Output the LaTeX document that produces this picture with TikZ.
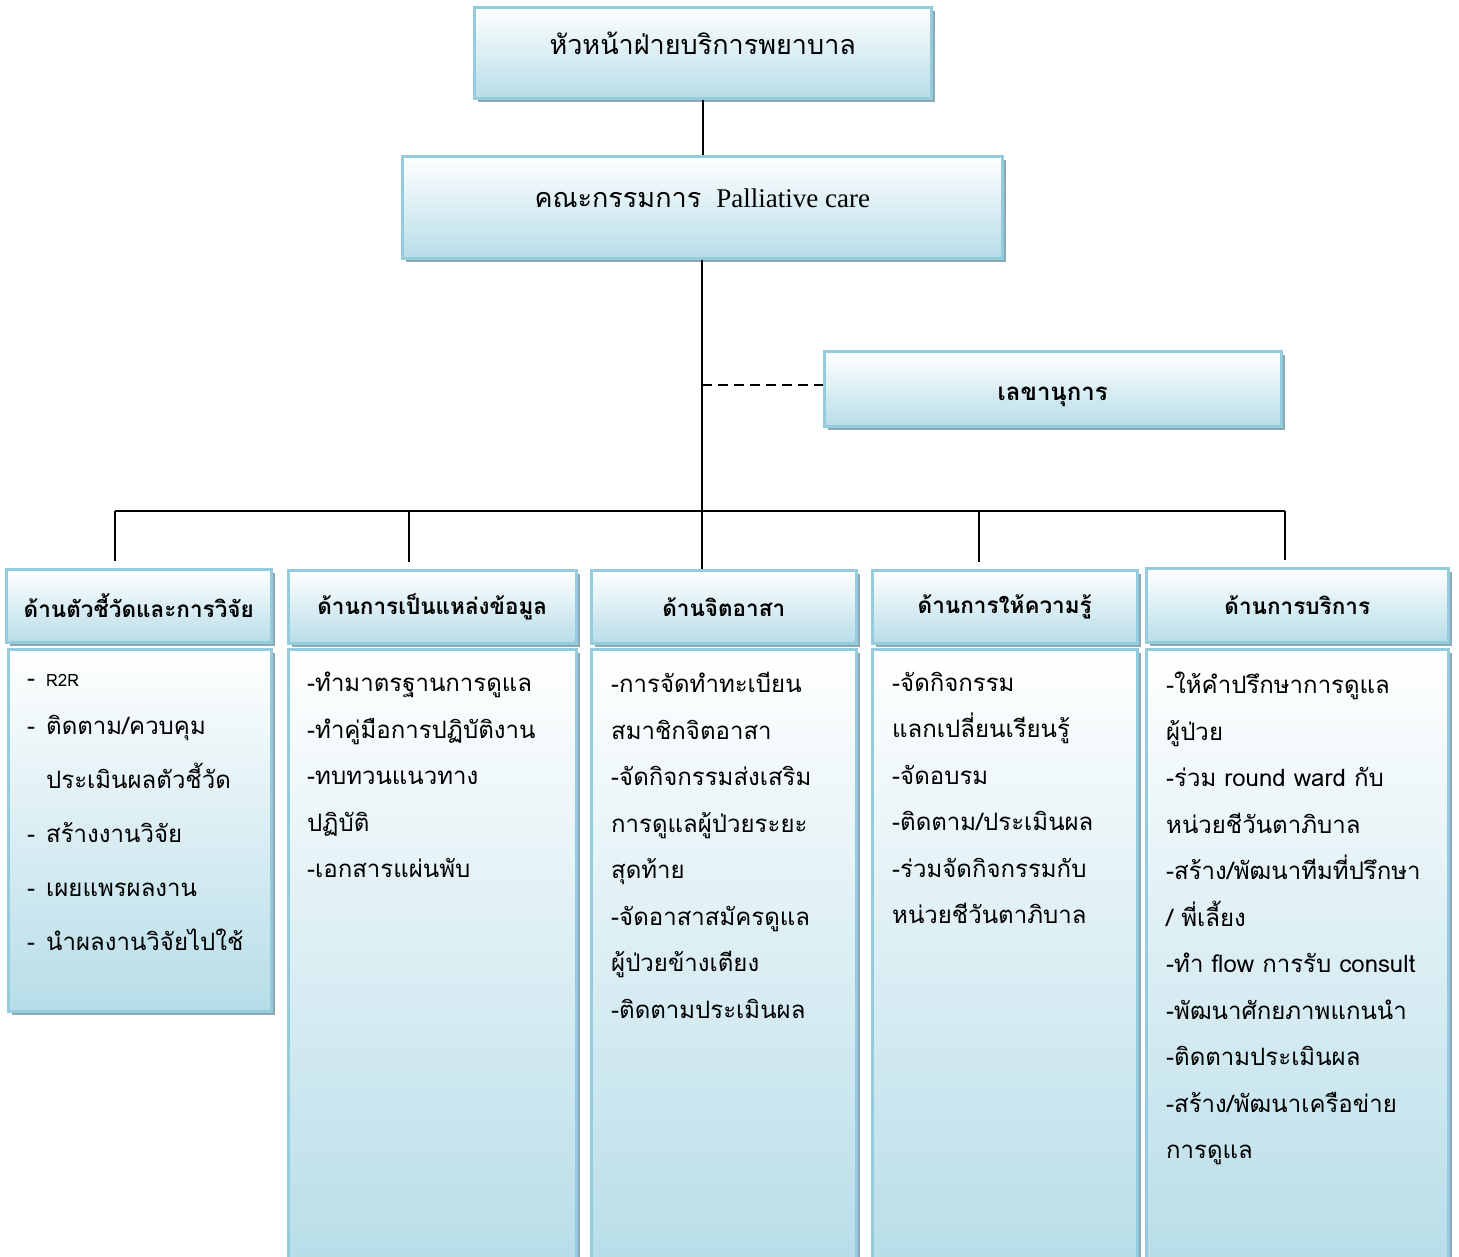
\documentclass[tikz,border=0pt]{standalone}
\usepackage{fontspec}
\newfontfamily\thai[Script=Thai]{Loma}
\newfontfamily\lserif{Liberation Serif}
\usetikzlibrary{shadows}
\definecolor{bordc}{HTML}{93CDDD}
\definecolor{fillc}{HTML}{B7DDE8}
\definecolor{shadc}{HTML}{8EA7B1}
\tikzset{
  box/.style={rectangle, draw=bordc, line width=2.5pt, top color=white, bottom color=fillc,
    general shadow={fill=shadc, shadow xshift=4pt, shadow yshift=-4pt},
    inner sep=0pt, anchor=north west},
  headbox/.style={box, font=\thai\bfseries\fontsize{22.5pt}{26pt}\selectfont},
  conn/.style={line width=1.6pt, black},
  bodytext/.style={anchor=north west, inner sep=0pt, align=left,
    font=\thai\fontsize{24pt}{46.5pt}\selectfont},
}
\begin{document}
\begin{tikzpicture}[x=1pt,y=-1pt]
\useasboundingbox (0,0) rectangle (1459,1256);
\fill[white] (0,0) rectangle (1459,1256);

\node[box, minimum width=457, minimum height=91, text height=15pt, text depth=12pt,
  font=\thai\fontsize{27pt}{32pt}\selectfont] (top) at (473,6) {หัวหน้าฝ่ายบริการพยาบาล};
\node[box, minimum width=600, minimum height=102, text height=20pt, text depth=20pt] (comm) at (401,155)
  {{\thai\fontsize{27pt}{30pt}\selectfont คณะกรรมการ}\hspace{15pt}{\lserif\fontsize{27pt}{30pt}\selectfont Palliative care}};
\node[box, minimum width=457, minimum height=75, text height=23pt, text depth=0pt,
  font=\thai\bfseries\fontsize{24pt}{28pt}\selectfont] (sec) at (823,350) {เลขานุการ};

\node[headbox, minimum width=265, minimum height=73] (h1) at (5,568) {ด้านตัวชี้วัดและการวิจัย};
\node[headbox, minimum width=288, minimum height=73] (h2) at (287,569) {ด้านการเป็นแหล่งข้อมูล};
\node[headbox, minimum width=265, minimum height=73] (h3) at (590,569) {ด้านจิตอาสา};
\node[headbox, minimum width=265, minimum height=73] (h4) at (871,569) {ด้านการให้ความรู้};
\node[headbox, minimum width=302, minimum height=74] (h5) at (1145,567) {ด้านการบริการ};

\node[box, minimum width=263, minimum height=362] (b1) at (7,648) {};
\node[box, minimum width=288, minimum height=620] (b2) at (287,648) {};
\node[box, minimum width=265, minimum height=620] (b3) at (590,648) {};
\node[box, minimum width=265, minimum height=620] (b4) at (871,648) {};
\node[box, minimum width=302, minimum height=620] (b5) at (1145,648) {};

\node[bodytext, font=\thai\fontsize{24pt}{54pt}\selectfont] (t1) at (27,674) {%
\makebox[19pt][l]{-}{\fontsize{17pt}{20pt}\selectfont R2R}\\[-6pt]
\makebox[19pt][l]{-}ติดตาม/ควบคุม\\
\makebox[19pt][l]{}ประเมินผลตัวชี้วัด\\
\makebox[19pt][l]{-}สร้างงานวิจัย\\
\makebox[19pt][l]{-}เผยแพรผลงาน\\
\makebox[19pt][l]{-}นำผลงานวิจัยไปใช้};

\node[bodytext] (t2) at (307,672) {-ทำมาตรฐานการดูแล\\-ทำคู่มือการปฏิบัติงาน\\-ทบทวนแนวทาง\\ปฏิบัติ\\-เอกสารแผ่นพับ};
\node[bodytext] (t3) at (611,672) {-การจัดทำทะเบียน\\สมาชิกจิตอาสา\\-จัดกิจกรรมส่งเสริม\\การดูแลผู้ป่วยระยะ\\สุดท้าย\\-จัดอาสาสมัครดูแล\\ผู้ป่วยข้างเตียง\\-ติดตามประเมินผล};
\node[bodytext] (t4) at (892,672) {-จัดกิจกรรม\\แลกเปลี่ยนเรียนรู้\\-จัดอบรม\\-ติดตาม/ประเมินผล\\-ร่วมจัดกิจกรรมกับ\\หน่วยชีวันตาภิบาล};
\node[bodytext] (t5) at (1166,672) {-ให้คำปรึกษาการดูแล\\ผู้ป่วย\\-ร่วม round ward กับ\\หน่วยชีวันตาภิบาล\\-สร้าง/พัฒนาทีมที่ปรึกษา\\/ พี่เลี้ยง\\-ทำ flow การรับ consult\\-พัฒนาศักยภาพแกนนำ\\-ติดตามประเมินผล\\-สร้าง/พัฒนาเครือข่าย\\การดูแล};

% connectors
\draw[conn] (top.south) -- (top.south |- comm.north);
\draw[conn] (comm.south) -- (comm.south |- h3.north);
\draw[conn, dash pattern=on 10pt off 6pt] ([yshift=3.5pt]sec.west -| comm.south) -- ([yshift=3.5pt]sec.west);
\coordinate (p1) at (115,511);
\coordinate (p2) at (409,511);
\coordinate (p4) at (979,511);
\coordinate (p5) at (1285,511);
\draw[conn] (p1) -- (p5);
\draw[conn, shorten >=7pt] (p1) -- (p1 |- h1.north);
\draw[conn, shorten >=7pt] (p2) -- (p2 |- h2.north);
\draw[conn, shorten >=7pt] (p4) -- (p4 |- h4.north);
\draw[conn, shorten >=7pt] (p5) -- (p5 |- h5.north);
\end{tikzpicture}
\end{document}
